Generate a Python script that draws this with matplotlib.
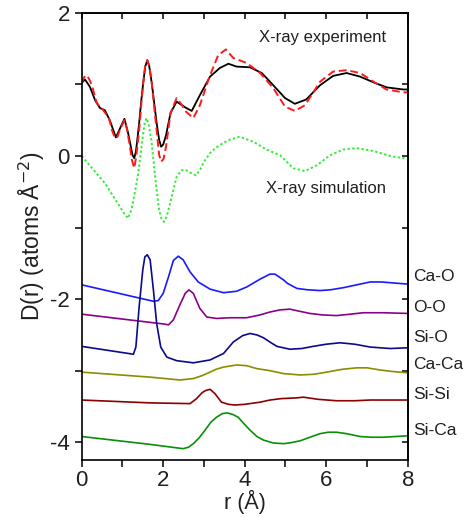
import matplotlib

matplotlib.use("Agg")

import matplotlib.pyplot as plt

plt.rcParams["font.family"] = ["Liberation Sans", "DejaVu Sans"]
plt.rcParams["axes.unicode_minus"] = False

# X-ray total D(r): experiment (solid black) and simulation (dashed red)
exp_r = [0.00, 0.08, 0.20, 0.33, 0.45, 0.57, 0.69, 0.84, 0.96, 1.05, 1.14, 1.20, 1.25, 1.29,
         1.33, 1.37, 1.41, 1.46, 1.51, 1.56, 1.61, 1.66, 1.72, 1.78, 1.84, 1.90, 1.95, 2.00,
         2.07, 2.18, 2.33, 2.54, 2.70, 2.90, 3.15, 3.39, 3.60, 3.80, 4.13, 4.42, 4.70, 4.99,
         5.23, 5.51, 5.85, 6.17, 6.50, 6.83, 7.16, 7.48, 7.89, 8.00]
exp_d = [1.02, 1.07, 0.97, 0.78, 0.67, 0.64, 0.50, 0.26, 0.41, 0.52, 0.32, 0.15, 0.01, -0.03,
         0.06, 0.25, 0.46, 0.76, 1.02, 1.25, 1.34, 1.25, 1.02, 0.74, 0.46, 0.23, 0.13, 0.16,
         0.29, 0.60, 0.76, 0.68, 0.63, 0.85, 1.11, 1.23, 1.29, 1.25, 1.24, 1.16, 0.99, 0.81,
         0.73, 0.79, 0.99, 1.12, 1.16, 1.11, 1.03, 0.96, 0.93, 0.93]

sim_r = [0.00, 0.06, 0.12, 0.18, 0.25, 0.37, 0.53, 0.67, 0.75, 0.82, 0.88, 0.94, 1.05, 1.11,
         1.17, 1.23, 1.29, 1.34, 1.41, 1.46, 1.51, 1.56, 1.61, 1.66, 1.72, 1.78, 1.84, 1.90,
         1.95, 2.01, 2.07, 2.18, 2.33, 2.45, 2.56, 2.74, 2.90, 3.15, 3.35, 3.54, 3.72, 4.05,
         4.38, 4.70, 4.99, 5.23, 5.48, 5.85, 6.17, 6.50, 6.83, 7.16, 7.48, 7.89, 8.00]
sim_d = [1.02, 1.10, 1.13, 1.08, 0.99, 0.74, 0.64, 0.53, 0.35, 0.25, 0.27, 0.37, 0.50, 0.38,
         0.18, -0.05, -0.17, 0.00, 0.36, 0.70, 1.02, 1.27, 1.34, 1.26, 1.02, 0.68, 0.36, 0.02,
         -0.08, -0.04, 0.13, 0.60, 0.81, 0.72, 0.62, 0.53, 0.71, 1.13, 1.41, 1.49, 1.37, 1.30,
         1.16, 0.95, 0.69, 0.63, 0.71, 1.04, 1.18, 1.20, 1.16, 1.04, 0.93, 0.89, 0.89]

# X-ray simulation drawn a second time, shifted (dotted green)
xsim_r = [0.00, 0.57, 0.94, 1.05, 1.14, 1.22, 1.30, 1.39, 1.45, 1.51, 1.55, 1.59, 1.64, 1.71,
          1.77, 1.83, 1.90, 1.96, 2.02, 2.09, 2.17, 2.33, 2.45, 2.54, 2.66, 2.80, 2.90, 3.00,
          3.15, 3.30, 3.50, 3.64, 3.88, 4.21, 4.54, 4.87, 5.19, 5.48, 5.77, 6.09, 6.42, 6.75,
          7.16, 7.57, 8.00]
xsim_d = [0.00, -0.38, -0.71, -0.81, -0.87, -0.75, -0.52, -0.24, 0.05, 0.32, 0.47, 0.53, 0.45,
          0.22, -0.10, -0.43, -0.75, -0.88, -0.92, -0.84, -0.66, -0.29, -0.20, -0.19, -0.23,
          -0.27, -0.20, -0.08, 0.04, 0.12, 0.19, 0.23, 0.27, 0.20, 0.09, 0.01, -0.17, -0.21,
          -0.13, 0.01, 0.09, 0.11, 0.07, 0.00, -0.04]

# partial D(r), already offset
cao_r = [0.00, 1.76, 1.88, 2.00, 2.13, 2.25, 2.37, 2.49, 2.66, 2.86, 3.15, 3.48, 3.80, 4.05,
         4.38, 4.62, 4.74, 4.95, 5.05, 5.28, 5.55, 5.85, 6.10, 6.42, 6.75, 7.08, 7.35, 7.57, 8.00]
cao_d = [-1.80, -2.03, -2.02, -1.92, -1.69, -1.46, -1.40, -1.45, -1.62, -1.76, -1.86, -1.91,
         -1.89, -1.83, -1.72, -1.65, -1.65, -1.73, -1.78, -1.85, -1.87, -1.88, -1.87, -1.84,
         -1.80, -1.76, -1.76, -1.77, -1.79]

oo_r = [0.00, 2.05, 2.13, 2.25, 2.41, 2.54, 2.63, 2.74, 2.90, 3.07, 3.31, 3.64, 4.05, 4.38,
        4.62, 4.87, 5.11, 5.35, 5.60, 5.90, 6.25, 6.60, 6.91, 7.40, 8.00]
oo_d = [-2.21, -2.35, -2.36, -2.29, -2.08, -1.92, -1.87, -1.92, -2.13, -2.25, -2.27, -2.26,
        -2.26, -2.22, -2.18, -2.15, -2.14, -2.17, -2.20, -2.22, -2.23, -2.21, -2.19, -2.19,
        -2.20]

sio_r = [0.00, 1.27, 1.33, 1.41, 1.50, 1.55, 1.61, 1.68, 1.76, 1.84, 1.94, 2.09, 2.33, 2.74,
         3.15, 3.48, 3.72, 3.95, 4.13, 4.30, 4.46, 4.62, 4.79, 5.11, 5.40, 5.68, 6.00, 6.34,
         6.70, 7.08, 7.57, 8.00]
sio_d = [-2.66, -2.77, -2.67, -2.11, -1.59, -1.41, -1.38, -1.45, -1.87, -2.34, -2.67, -2.81,
         -2.86, -2.89, -2.85, -2.76, -2.60, -2.51, -2.48, -2.50, -2.54, -2.60, -2.66, -2.70,
         -2.69, -2.66, -2.63, -2.61, -2.63, -2.67, -2.69, -2.68]

caca_r = [0.00, 1.68, 2.41, 2.74, 2.95, 3.15, 3.30, 3.48, 3.80, 4.05, 4.29, 4.62, 4.95, 5.36,
          5.70, 6.01, 6.40, 6.75, 7.00, 7.32, 7.60, 8.00]
caca_d = [-3.02, -3.09, -3.13, -3.11, -3.07, -3.02, -2.98, -2.95, -2.92, -2.93, -2.97, -3.00,
          -3.04, -3.06, -3.05, -3.02, -2.98, -2.96, -2.96, -2.99, -3.01, -3.03]

sisi_r = [0.00, 1.68, 2.66, 2.82, 2.95, 3.03, 3.15, 3.27, 3.43, 3.60, 3.76, 4.00, 4.38, 4.62,
          4.90, 5.28, 5.44, 5.80, 6.25, 6.70, 7.08, 7.50, 8.00]
sisi_d = [-3.41, -3.45, -3.46, -3.39, -3.31, -3.28, -3.26, -3.32, -3.44, -3.47, -3.48, -3.47,
          -3.44, -3.41, -3.39, -3.38, -3.37, -3.40, -3.42, -3.42, -3.41, -3.41, -3.41]

sica_r = [0.00, 1.68, 2.49, 2.62, 2.74, 2.88, 3.03, 3.17, 3.31, 3.45, 3.57, 3.70, 3.84, 3.98,
          4.13, 4.30, 4.46, 4.70, 4.95, 5.10, 5.36, 5.60, 5.85, 6.05, 6.25, 6.50, 6.83, 7.10,
          7.40, 8.00]
sica_d = [-3.92, -4.03, -4.09, -4.07, -4.02, -3.94, -3.83, -3.72, -3.65, -3.60, -3.59, -3.61,
          -3.65, -3.74, -3.83, -3.92, -3.97, -4.01, -4.02, -4.01, -3.98, -3.93, -3.88, -3.86,
          -3.86, -3.88, -3.92, -3.93, -3.93, -3.91]

pair_names = ["Ca-O", "O-O", "Si-O", "Ca-Ca", "Si-Si", "Si-Ca"]
pair_label_y = [-1.69, -2.12, -2.54, -2.92, -3.33, -3.83]

text_color = "#231f20"

fig = plt.figure(figsize=(4.64, 5.17), dpi=100)
ax = fig.add_axes([0.176, 0.110, 0.7027, 0.865])

ax.plot(exp_r, exp_d, color="black", lw=1.3)
ax.plot(sim_r, sim_d, color="#ff1a1a", lw=1.4, ls=(0, (4, 2)))
ax.plot(xsim_r, xsim_d, color="#33ee33", lw=1.4, ls=(0, (1.2, 1.2)))

partials = [
    (cao_r, cao_d, "#1a1aff"),
    (oo_r, oo_d, "#8b008b"),
    (sio_r, sio_d, "#0a0a8c"),
    (caca_r, caca_d, "#8c8c00"),
    (sisi_r, sisi_d, "#8b0000"),
    (sica_r, sica_d, "#089008"),
]
for r, d, c in partials:
    ax.plot(r, d, color=c, lw=1.2)

for name, yy in zip(pair_names, pair_label_y):
    ax.text(8.14, yy, name, fontsize=12.5, color=text_color, va="center", ha="left",
            clip_on=False)

ax.text(5.9, 1.65, "X-ray experiment", fontsize=12, color=text_color, ha="center", va="center")
ax.text(6.0, -0.45, "X-ray simulation", fontsize=12, color=text_color, ha="center", va="center")

ax.set_xlim(0, 8)
ax.set_ylim(-4.25, 2)
ax.set_xticks([0, 2, 4, 6, 8])
ax.set_xticks([1, 3, 5, 7], minor=True)
ax.set_yticks([-4, -2, 0, 2])
ax.set_yticks([-3, -1, 1], minor=True)
ax.tick_params(which="both", direction="out", length=5, width=1.1, labelsize=16,
               labelcolor=text_color)
ax.tick_params(axis="x", pad=2)

top = ax.secondary_xaxis("top")
top.set_xticks([0, 1, 2, 3, 4, 5, 6, 7, 8])
top.tick_params(direction="in", length=4, width=1.1, labeltop=False)
right = ax.secondary_yaxis("right")
right.set_yticks([-4, -3, -2, -1, 0, 1, 2])
right.tick_params(direction="in", length=4, width=1.1, labelright=False)

for spine in list(ax.spines.values()) + [top.spines["top"], right.spines["right"]]:
    spine.set_linewidth(1.2)

ax.set_xlabel("r (Å)", fontsize=15.5, color=text_color, labelpad=-1)
ax.set_ylabel("D(r) (atoms Å$^{\\mathrm{-2}}$)", fontsize=16.5, color=text_color, labelpad=2)

fig.savefig("out.png", dpi=100)
